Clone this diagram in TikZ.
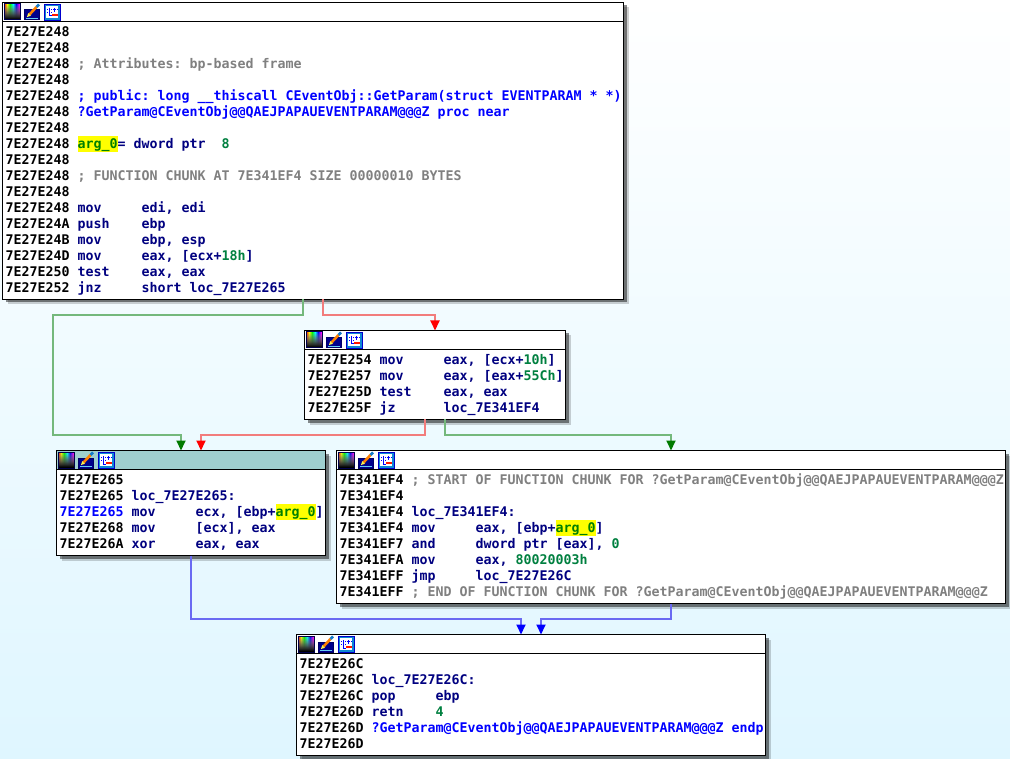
\documentclass[tikz,border=0pt]{standalone}
\usepackage{fontspec}
\setmonofont{DejaVu Sans Mono}[BoldFont={DejaVu Sans Mono Bold}]
\usetikzlibrary{arrows.meta,shadows}
\definecolor{bgtop}{HTML}{FFFFFF}
\definecolor{bgbot}{HTML}{DFF6FF}
\definecolor{headcol}{HTML}{9FCFCF}
\definecolor{instcol}{HTML}{000080}
\definecolor{cmtcol}{HTML}{808080}
\definecolor{namecol}{HTML}{0000FF}
\definecolor{numcol}{HTML}{008040}
\definecolor{argcol}{HTML}{008000}
\definecolor{hlcol}{HTML}{FFFF00}
\definecolor{grnline}{HTML}{74B87C}
\definecolor{redline}{HTML}{F27C7C}
\definecolor{bluline}{HTML}{6A6AF2}
\definecolor{grntip}{HTML}{007A00}
\definecolor{redtip}{HTML}{FF0000}
\definecolor{blutip}{HTML}{0000FF}
\setlength{\fboxsep}{0pt}
\newcommand{\lnst}{\rule[-4pt]{0pt}{16pt}}
\newcommand{\ins}[1]{\makebox[64pt][l]{\textcolor{instcol}{#1}}}
\newcommand{\opd}[1]{\textcolor{instcol}{#1}}
\newcommand{\cmt}[1]{\textcolor{cmtcol}{#1}}
\newcommand{\nam}[1]{\textcolor{namecol}{#1}}
\newcommand{\num}[1]{\textcolor{numcol}{#1}}
\newcommand{\argz}{\colorbox{hlcol}{\lnst\textcolor{argcol}{arg\_0}}}
\newcommand{\gpar}{?GetParam@CEventObj@@QAEJPAPAUEVENTPARAM@@@Z}
\tikzset{
	blockbox/.style={draw=black,fill=white,line width=1pt,rectangle,inner sep=0pt,outer sep=0pt,anchor=north west,
		drop shadow={shadow xshift=5pt,shadow yshift=-5pt,fill=black,opacity=.18},
		drop shadow={shadow xshift=3pt,shadow yshift=-3pt,fill=black,opacity=.45}},
	headline/.style={draw=black,line width=1pt},
	listing/.style={inner sep=0pt,anchor=north west,align=left,font=\fontsize{13.29}{16}\selectfont\ttfamily\bfseries},
	grnedge/.style={draw=grnline,line width=2pt,-{Triangle[width=9pt,length=10pt,color=grntip]}},
	rededge/.style={draw=redline,line width=2pt,-{Triangle[width=9pt,length=10pt,color=redtip]}},
	bluedge/.style={draw=bluline,line width=2pt,-{Triangle[width=9pt,length=10pt,color=blutip]}},
	palicon/.pic={
		\foreach \i in {0,...,15}{
			\pgfmathsetmacro{\hh}{\i/18}
			\definecolor{tmpc}{hsb}{\hh,1,1}
			\foreach \j in {0,...,15}{
				\pgfmathtruncatemacro{\lev}{100-\j*100/15}
				\fill[tmpc!\lev!black] (\i,\j) rectangle (\i+1.1,\j+1.1);
			}
		}
		\draw[black!70!blue,line width=1pt] (0,0) rectangle (16,16);
	},
	penicon/.pic={
		\fill[blue!55!black] (.5,6) rectangle (15.5,16);
		\draw[blue!40!black,line width=1pt] (.5,6) rectangle (15.5,16);
		\draw[cyan!60!white,line width=.8pt] (2,14.5) -- (14,14.5);
		\draw[orange,line width=2.6pt] (5.5,10.5) -- (12.5,3);
		\fill[yellow!70!white] (3,13) -- (4.2,9.2) -- (7,11.8) -- cycle;
		\draw[cyan!60!blue,line width=2.6pt] (12.5,3) -- (15,.5);
	},
	gphicon/.pic={
		\fill[white] (0,0) rectangle (16,16);
		\draw[cyan!70!blue,line width=2pt] (1,1) rectangle (15,15);
		\draw[blue,line width=.8pt,dashed,dash pattern=on 1pt off 1pt] (3,5) -- (14,5) (3,8) -- (8,8);
		\draw[blue,line width=1pt] (5,4) -- (5,12) -- (8,12) (10,4) -- (10,8);
		\fill[red!80!orange] (8,10) rectangle (14,12);
		\draw[blue!80!black,line width=.6pt] (0,0) rectangle (16,16);
	},
}
\newcommand{\blockicons}[1]{
	\draw[headline] ([yshift=-19pt]#1.north west) -- ([yshift=-19pt]#1.north east);
	\pic at ([xshift=1.5pt,yshift=-1.5pt]#1.north west) {palicon};
	\pic at ([xshift=21.5pt,yshift=-1.5pt]#1.north west) {penicon};
	\pic at ([xshift=41.5pt,yshift=-1.5pt]#1.north west) {gphicon};
}
\begin{document}
\begin{tikzpicture}[x=1pt,y=-1pt]
	\useasboundingbox (0,0) rectangle (1010,759);
	\shade[top color=bgtop,bottom color=bgbot] (0,0) rectangle (1010,759);
	% top block
	\node[blockbox,minimum width=621pt,minimum height=297pt] (entryblk) at (2.5,2.5) {};
	\blockicons{entryblk}
	\node[listing] (entrytxt) at ([xshift=3pt,yshift=-21.5pt]entryblk.north west) {\lnst 7E27E248\\
		\lnst 7E27E248\\
		\lnst 7E27E248 \cmt{; Attributes: bp-based frame}\\
		\lnst 7E27E248\\
		\lnst 7E27E248 \nam{; public: long \_\_thiscall CEventObj::GetParam(struct EVENTPARAM * *)}\\
		\lnst 7E27E248 \nam{\gpar{} proc near}\\
		\lnst 7E27E248\\
		\lnst 7E27E248 \argz\opd{= dword ptr~~}\num{8}\\
		\lnst 7E27E248\\
		\lnst 7E27E248 \cmt{; FUNCTION CHUNK AT 7E341EF4 SIZE 00000010 BYTES}\\
		\lnst 7E27E248\\
		\lnst 7E27E248 \ins{mov}\opd{edi, edi}\\
		\lnst 7E27E24A \ins{push}\opd{ebp}\\
		\lnst 7E27E24B \ins{mov}\opd{ebp, esp}\\
		\lnst 7E27E24D \ins{mov}\opd{eax, [ecx+}\num{18h}\opd{]}\\
		\lnst 7E27E250 \ins{test}\opd{eax, eax}\\
		\lnst 7E27E252 \ins{jnz}\opd{short loc\_7E27E265}};
	% second block
	\node[blockbox,minimum width=261pt,minimum height=89pt] (testblk) at (304.5,330.5) {};
	\blockicons{testblk}
	\node[listing] (testtxt) at ([xshift=3pt,yshift=-21.5pt]testblk.north west) {\lnst 7E27E254 \ins{mov}\opd{eax, [ecx+}\num{10h}\opd{]}\\
		\lnst 7E27E257 \ins{mov}\opd{eax, [eax+}\num{55Ch}\opd{]}\\
		\lnst 7E27E25D \ins{test}\opd{eax, eax}\\
		\lnst 7E27E25F \ins{jz}\opd{loc\_7E341EF4}};
	% current block
	\node[blockbox,minimum width=269pt,minimum height=105pt] (currblk) at (56.5,450.5) {};
	\fill[headcol] ([xshift=.5pt,yshift=-.5pt]currblk.north west) rectangle ([xshift=-.5pt,yshift=-19pt]currblk.north east);
	\blockicons{currblk}
	\node[listing] (currtxt) at ([xshift=3pt,yshift=-21.5pt]currblk.north west) {\lnst 7E27E265\\
		\lnst 7E27E265 \opd{loc\_7E27E265:}\\
		\lnst \nam{7E27E265} \ins{mov}\opd{ecx, [ebp+}\argz\opd{]}\\
		\lnst 7E27E268 \ins{mov}\opd{[ecx], eax}\\
		\lnst 7E27E26A \ins{xor}\opd{eax, eax}};
	% chunk block
	\node[blockbox,minimum width=669pt,minimum height=153pt] (chunkblk) at (336.5,450.5) {};
	\blockicons{chunkblk}
	\node[listing] (chunktxt) at ([xshift=3pt,yshift=-21.5pt]chunkblk.north west) {\lnst 7E341EF4 \cmt{; START OF FUNCTION CHUNK FOR \gpar}\\
		\lnst 7E341EF4\\
		\lnst 7E341EF4 \opd{loc\_7E341EF4:}\\
		\lnst 7E341EF4 \ins{mov}\opd{eax, [ebp+}\argz\opd{]}\\
		\lnst 7E341EF7 \ins{and}\opd{dword ptr [eax], }\num{0}\\
		\lnst 7E341EFA \ins{mov}\opd{eax, }\num{80020003h}\\
		\lnst 7E341EFF \ins{jmp}\opd{loc\_7E27E26C}\\
		\lnst 7E341EFF \cmt{; END OF FUNCTION CHUNK FOR \gpar}};
	% last block
	\node[blockbox,minimum width=469pt,minimum height=121pt] (exitblk) at (296.5,634.5) {};
	\blockicons{exitblk}
	\node[listing] (exittxt) at ([xshift=3pt,yshift=-21.5pt]exitblk.north west) {\lnst 7E27E26C\\
		\lnst 7E27E26C \opd{loc\_7E27E26C:}\\
		\lnst 7E27E26C \ins{pop}\opd{ebp}\\
		\lnst 7E27E26D \ins{retn}\num{4}\\
		\lnst 7E27E26D \nam{\gpar{} endp}\\
		\lnst 7E27E26D};
	% edges
	\draw[grnedge] ([xshift=300.5pt]entryblk.south west) -- ++(0,15.5) -- ++(-250,0) -- ++(0,120) -- ([xshift=124.5pt,yshift=15.5pt]currblk.north west) -- ([xshift=124.5pt]currblk.north west);
	\draw[rededge] ([xshift=320.5pt]entryblk.south west) -- ++(0,15.5) -- ([xshift=130.5pt,yshift=15.5pt]testblk.north west) -- ([xshift=130.5pt]testblk.north west);
	\draw[rededge] ([xshift=120.5pt]testblk.south west) -- ++(0,15.5) -- ([xshift=144.5pt,yshift=15.5pt]currblk.north west) -- ([xshift=144.5pt]currblk.north west);
	\draw[grnedge] ([xshift=140.5pt]testblk.south west) -- ++(0,15.5) -- ([xshift=334.5pt,yshift=15.5pt]chunkblk.north west) -- ([xshift=334.5pt]chunkblk.north west);
	\draw[bluedge] ([xshift=134.5pt]currblk.south west) -- ++(0,63.5) -- ([xshift=224.5pt,yshift=15.5pt]exitblk.north west) -- ([xshift=224.5pt]exitblk.north west);
	\draw[bluedge] ([xshift=334.5pt]chunkblk.south west) -- ++(0,15.5) -- ([xshift=244.5pt,yshift=15.5pt]exitblk.north west) -- ([xshift=244.5pt]exitblk.north west);
\end{tikzpicture}
\end{document}
